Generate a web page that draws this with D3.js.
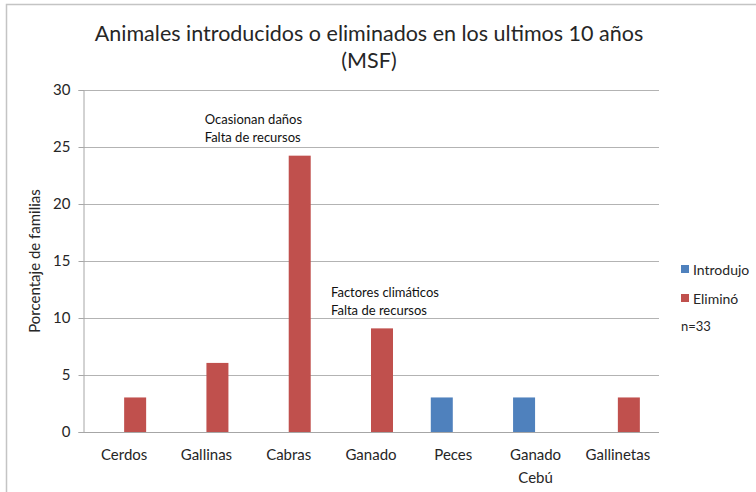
<!DOCTYPE html>
<html>
<head>
<meta charset="utf-8">
<script src="https://cdn.jsdelivr.net/npm/d3@7"></script>
<style>
  html, body { margin: 0; padding: 0; background: #fff; }
  svg { display: block; font-family: Lato, "Open Sans", sans-serif; }
</style>
</head>
<body>
<svg id="chart" width="756" height="492"></svg>
<script>
// Animal species introduced or removed by families over the last ten years
const categories = ["Cerdos", "Gallinas", "Cabras", "Ganado", "Peces", "Ganado Cebú", "Gallinetas"];
const introdujo = [0, 0, 0, 0, 3.03, 3.03, 0];
const elimino = [3.03, 6.06, 24.24, 9.09, 0, 0, 3.03];
const seriesNames = ["Introdujo", "Eliminó"];
const yTicks = [0, 5, 10, 15, 20, 25, 30];
const noteCats = ["Cabras", "Ganado"];
const noteLines = [["Ocasionan daños", "Falta de recursos"], ["Factores climáticos", "Falta de recursos"]];
const noteLevels = [27.0, 11.8];
// horizontal offset of each note block relative to its category centre
const noteShift = [-84, -40];

const colors = ["#4F81BD", "#C0504D"];
const svg = d3.select("#chart");
const margin = { left: 83, right: 97, top: 90, bottom: 60 };
const W = 756, H = 492;

// outer chart frame
svg.append("rect")
  .attr("x", 6.5).attr("y", 4.5)
  .attr("width", 800).attr("height", 600)
  .attr("fill", "none").attr("stroke", "#c4c4c4").attr("stroke-width", 1.5);

const x = d3.scaleBand().domain(categories)
  .range([margin.left, W - margin.right]);
const xInner = d3.scaleBand().domain(seriesNames)
  .range([0, 45]);
const y = d3.scaleLinear().domain([0, 30]).range([H - margin.bottom, margin.top]);

// title
const title = svg.append("text")
  .attr("x", 369).attr("text-anchor", "middle")
  .attr("font-size", 21.5).attr("fill", "#262626");
title.append("tspan").attr("x", 369).attr("y", 41).text("Animales introducidos o eliminados en los ultimos 10 años");
title.append("tspan").attr("x", 369).attr("y", 68).text("(MSF)");

// horizontal gridlines
svg.append("g").selectAll("line").data(yTicks.filter(d => d > 0)).join("line")
  .attr("x1", margin.left).attr("x2", W - margin.right)
  .attr("y1", d => Math.round(y(d)) + 0.5).attr("y2", d => Math.round(y(d)) + 0.5)
  .attr("stroke", "#b3b3b3").attr("stroke-width", 1);

// y axis
const yAxis = svg.append("g")
  .attr("transform", `translate(${margin.left + 0.5},0)`)
  .call(d3.axisLeft(y).tickValues(yTicks).tickSize(5).tickPadding(8).tickFormat(d3.format("d")));
yAxis.select(".domain").attr("stroke", "#a6a6a6");
yAxis.selectAll(".tick line").attr("stroke", "#a6a6a6");
yAxis.selectAll(".tick text").attr("font-size", 15).attr("fill", "#262626")
  .attr("font-family", "Lato, sans-serif");

// x axis baseline
svg.append("line")
  .attr("x1", margin.left).attr("x2", W - margin.right)
  .attr("y1", Math.round(y(0)) + 0.5).attr("y2", Math.round(y(0)) + 0.5)
  .attr("stroke", "#a6a6a6");

// x category labels
const xl = svg.append("g").selectAll("text").data(categories).join("text")
  .attr("x", d => x(d) + x.bandwidth() / 2)
  .attr("text-anchor", "middle").attr("font-size", 15).attr("fill", "#262626");
xl.each(function (d) {
  const parts = d.split(" ");
  parts.forEach((p, i) => {
    d3.select(this).append("tspan")
      .attr("x", x(d) + x.bandwidth() / 2)
      .attr("y", 460 + i * 23).text(p);
  });
});

// y axis title
svg.append("text")
  .attr("transform", `translate(40,${(y(0) + y(30)) / 2}) rotate(-90)`)
  .attr("text-anchor", "middle").attr("font-size", 15).attr("fill", "#262626")
  .text("Porcentaje de familias");

// bars
const rows = categories.map((c, i) => ({ cat: c, vals: [introdujo[i], elimino[i]] }));
const groups = svg.append("g").selectAll("g").data(rows).join("g")
  .attr("transform", d => `translate(${x(d.cat) + x.bandwidth() / 2 - 22.5},0)`);
groups.selectAll("rect").data(d => d.vals.map((v, j) => ({ v, j })).filter(e => e.v > 0)).join("rect")
  .attr("x", e => xInner(seriesNames[e.j]))
  .attr("width", xInner.bandwidth() - 0.5)
  .attr("y", e => y(e.v))
  .attr("height", e => y(0) - y(e.v))
  .attr("fill", e => colors[e.j]);

// annotations with the reasons given
noteCats.forEach((c, k) => {
  const t = svg.append("text")
    .attr("font-size", 13).attr("fill", "#111");
  noteLines[k].forEach((l, i) => {
    t.append("tspan")
      .attr("x", x(c) + x.bandwidth() / 2 + noteShift[k])
      .attr("y", y(noteLevels[k]) + i * 18).text(l);
  });
});

// legend
const lg = svg.append("g").attr("transform", "translate(681,0)");
seriesNames.forEach((s, i) => {
  const cy = 270 + i * 29;
  lg.append("rect").attr("x", 0).attr("y", cy - 5).attr("width", 8).attr("height", 8).attr("fill", colors[i]);
  lg.append("text").attr("x", 12).attr("y", cy + 4.5).attr("font-size", 14).attr("fill", "#262626").text(s);
});
lg.append("text").attr("x", 0).attr("y", 331).attr("font-size", 13).attr("fill", "#262626").text("n=33");
</script>
</body>
</html>
